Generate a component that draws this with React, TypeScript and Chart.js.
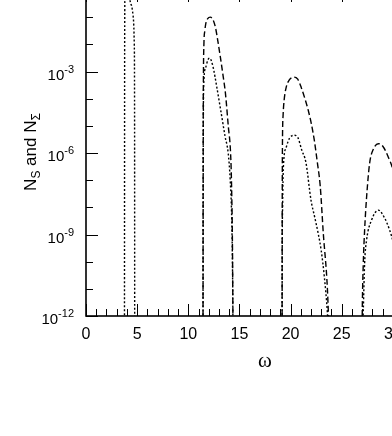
import React, { useEffect, useRef } from 'react';
import { Chart, registerables } from 'chart.js';

Chart.register(...registerables);

// ---- data (omega, value); null separates the separate lobes ----
const OMEGA_S = [
  11.44, 11.45, 11.46, 11.48, 11.53, 11.62, 11.72, 11.9, 12.15, 12.4, 12.65, 12.9, 13.14, 13.4, 13.63, 13.92, 14.12, 14.22, 14.32, 14.38,
  16.5,
  19.17, 19.18, 19.2, 19.27, 19.37, 19.57, 19.86, 20.35, 20.7, 21.04, 21.4, 21.73, 22.05, 22.32, 22.6, 22.9, 23.2, 23.6, 23.8,
  25.5,
  26.98, 27.01, 27.11, 27.24, 27.43, 27.73, 28.1, 28.58, 29.0, 29.5, 30.05, 30.5, 30.9, 31.2,
];
const N_S = [
  1e-13, 1e-8, 1e-5, 6.3e-4, 1.1e-2, 3.2e-2, 6.0e-2, 8.9e-2, 1.0e-1, 8.3e-2, 4.3e-2, 1.26e-2, 3.3e-3, 7.1e-4, 1.6e-4, 8.9e-6, 1.26e-6, 1e-7, 3.2e-10, 1e-13,
  null,
  1e-13, 1e-9, 1e-6, 2.5e-5, 8.7e-5, 2.6e-4, 4.8e-4, 6.2e-4, 5.2e-4, 2.6e-4, 1.0e-4, 3.7e-5, 1.1e-5, 2.95e-6, 5.0e-7, 6.0e-8, 1.1e-9, 1e-11, 1e-13,
  null,
  1e-13, 1.7e-12, 8.9e-11, 1.45e-9, 2.3e-8, 4.2e-7, 1.4e-6, 2.2e-6, 1.8e-6, 7.9e-7, 2.0e-7, 1.6e-8, 3.2e-10, 1e-13,
];

const OMEGA_SIGMA = [
  3.76, 3.77, 3.78, 3.82, 4.05, 4.25, 4.3, 4.45, 4.62, 4.72, 4.75, 4.76,
  8.0,
  11.44, 11.45, 11.47, 11.5, 11.7, 11.9, 12.09, 12.4, 12.8, 13.2, 13.6, 13.9, 14.1, 14.25, 14.33, 14.38,
  16.5,
  19.17, 19.18, 19.22, 19.3, 19.57, 19.9, 20.35, 20.7, 21.1, 21.5, 22.0, 22.35, 22.7, 23.0, 23.3, 23.6, 23.75,
  25.5,
  27.0, 27.11, 27.24, 27.43, 27.92, 28.58, 29.2, 29.7, 30.05, 30.5, 30.9, 31.2,
];
const N_SIGMA = [
  1e-13, 1e-6, 1e-2, 1.3, 3.2, 1.6, 4.5e-1, 2.7e-1, 1e-1, 1e-2, 1e-5, 1e-13,
  null,
  1e-13, 1e-9, 1e-5, 2.6e-4, 1.4e-3, 2.6e-3, 3.1e-3, 1.6e-3, 2.5e-4, 3.2e-5, 4.0e-6, 1.0e-6, 1e-7, 3.2e-9, 3.2e-11, 1e-13,
  null,
  1e-13, 1e-10, 1e-8, 3.2e-7, 1.6e-6, 3.5e-6, 4.5e-6, 3.8e-6, 1.26e-6, 4.5e-7, 1.8e-8, 4.5e-9, 1.1e-9, 2.5e-10, 2.8e-11, 1.3e-12, 1e-13,
  null,
  1e-13, 1.7e-12, 8.9e-11, 6.2e-10, 3.4e-9, 7.9e-9, 4.0e-9, 1.4e-9, 4.8e-10, 5.0e-11, 3.2e-12, 1e-13,
];

const X_TICK_LABELS = [0, 5, 10, 15, 20, 25, 30, 35];
const Y_TICK_EXPONENTS = [-12, -9, -6, -3, 0];
const Y_DECADES = [-12, -11, -10, -9, -8, -7, -6, -5, -4, -3, -2, -1, 0];

const SANS = '"Liberation Sans", Arial, Helvetica, sans-serif';

const W = 500;
const H = 480;
const TOP_SHIFT = 40;

const frameTicks = {
  id: 'frameTicks',
  afterDatasetsDraw(chart: any) {
    const { ctx, chartArea } = chart;
    const { left, right, top, bottom } = chartArea;
    const xs = chart.scales.x;
    const ys = chart.scales.y;
    ctx.save();
    ctx.strokeStyle = '#000';
    ctx.lineWidth = 1;
    ctx.beginPath();
    for (let v = 0; v <= 35; v += 1) {
      const px = Math.round(xs.getPixelForValue(v)) + 0.5;
      const len = v % 5 === 0 ? 12 : 7;
      ctx.moveTo(px, bottom);
      ctx.lineTo(px, bottom - len);
      ctx.moveTo(px, top);
      ctx.lineTo(px, top + len);
    }
    Y_DECADES.forEach((e) => {
      const py = Math.round(ys.getPixelForValue(Math.pow(10, e))) + 0.5;
      const len = e % 3 === 0 ? 12 : 7;
      ctx.moveTo(left, py);
      ctx.lineTo(left + len, py);
      ctx.moveTo(right, py);
      ctx.lineTo(right - len, py);
    });
    ctx.stroke();
    ctx.lineWidth = 1.6;
    ctx.strokeRect(left, top, right - left, bottom - top);

    // y tick labels: 10 with a raised exponent
    ctx.fillStyle = '#000';
    ctx.textBaseline = 'alphabetic';
    ctx.textAlign = 'left';
    Y_TICK_EXPONENTS.forEach((e) => {
      const py = ys.getPixelForValue(Math.pow(10, e));
      const base = '10';
      const exp = String(e);
      ctx.font = `11px ${SANS}`;
      const we = ctx.measureText(exp).width;
      ctx.font = `15px ${SANS}`;
      const wb = ctx.measureText(base).width;
      const xEnd = left - 12;
      ctx.fillText(base, xEnd - we - wb, py + 8);
      ctx.font = `11px ${SANS}`;
      ctx.fillText(exp, xEnd - we, py + 1);
    });
    ctx.restore();
  },
  afterDraw(chart: any) {
    const { ctx } = chart;
    ctx.save();
    ctx.translate(36, 152 + TOP_SHIFT);
    ctx.rotate(-Math.PI / 2);
    ctx.fillStyle = '#000';
    ctx.textBaseline = 'alphabetic';
    ctx.textAlign = 'left';
    const parts = [
      { t: 'N', sub: false },
      { t: 'S', sub: true },
      { t: ' and N', sub: false },
      { t: '\u03A3', sub: true },
    ];
    const fontFor = (sub: boolean) => (sub ? `12px ${SANS}` : `17px ${SANS}`);
    let total = 0;
    parts.forEach((p) => {
      ctx.font = fontFor(p.sub);
      total += ctx.measureText(p.t).width;
    });
    let x = -total / 2;
    parts.forEach((p) => {
      ctx.font = fontFor(p.sub);
      ctx.fillText(p.t, x, p.sub ? 4 : 0);
      x += ctx.measureText(p.t).width;
    });
    ctx.restore();
  },
};

export default function App() {
  const ref = useRef<HTMLCanvasElement | null>(null);

  useEffect(() => {
    if (!ref.current) return;
    const chart = new Chart(ref.current, {
      type: 'line',
      data: {
        datasets: [
          {
            label: 'N_S',
            data: OMEGA_S.map((x, i) => ({ x, y: N_S[i] })) as any,
            borderColor: '#000',
            borderWidth: 1.4,
            borderDash: [6, 3],
            pointRadius: 0,
            fill: false,
            spanGaps: false,
            cubicInterpolationMode: 'monotone',
          },
          {
            label: 'N_Σ',
            data: OMEGA_SIGMA.map((x, i) => ({ x, y: N_SIGMA[i] })) as any,
            borderColor: '#000',
            borderWidth: 1.4,
            borderDash: [2, 2],
            pointRadius: 0,
            fill: false,
            spanGaps: false,
            cubicInterpolationMode: 'monotone',
          },
        ],
      },
      options: {
        responsive: false,
        animation: false,
        layout: { padding: { left: 0, top: 30, right: W - 444, bottom: 64 } },
        plugins: { legend: { display: false }, tooltip: { enabled: false } },
        scales: {
          x: {
            type: 'linear',
            min: 0,
            max: 35,
            afterFit: (s: any) => { s.height = 60; },
            afterBuildTicks: (s: any) => { s.ticks = X_TICK_LABELS.map((v) => ({ value: v })); },
            grid: { display: false, drawTicks: false },
            border: { display: false },
            ticks: {
              autoSkip: false,
              maxRotation: 0,
              padding: 9,
              color: '#000',
              font: { family: SANS, size: 16 },
              callback: (v: any) => String(v),
            },
            title: {
              display: true,
              text: '\u03C9',
              color: '#000',
              font: { family: '"Liberation Serif", "Times New Roman", serif', size: 21 },
              padding: { top: 0, bottom: 2 },
            },
          },
          y: {
            type: 'logarithmic',
            min: 1e-12,
            max: 1,
            afterFit: (s: any) => { s.width = 86; },
            afterBuildTicks: (s: any) => {
              s.ticks = Y_TICK_EXPONENTS.map((e) => ({ value: Math.pow(10, e) }));
            },
            grid: { display: false, drawTicks: false },
            border: { display: false },
            ticks: { display: false },
          },
        },
      },
      plugins: [frameTicks],
    });
    return () => chart.destroy();
  }, []);

  return (
    <div style={{ position: 'fixed', left: 0, top: 0, width: 392, height: 436, overflow: 'hidden', background: '#fff' }}>
      <canvas
        ref={ref}
        width={W}
        height={H}
        style={{ position: 'absolute', left: 0, top: -TOP_SHIFT, width: W, height: H }}
      />
    </div>
  );
}
